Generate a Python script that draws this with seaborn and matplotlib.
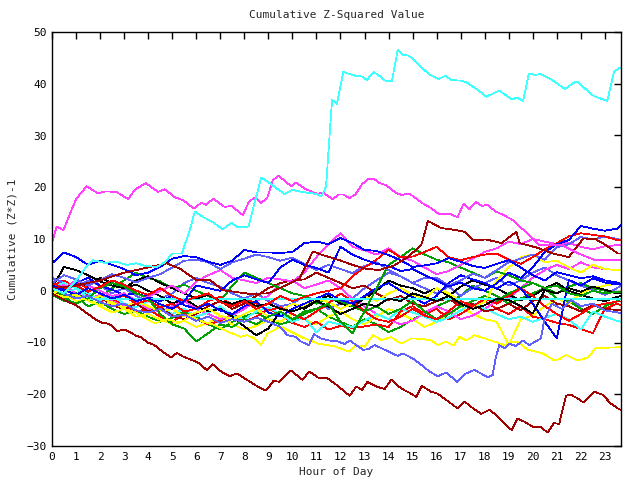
import numpy as np
import pandas as pd
import matplotlib
matplotlib.use("Agg")
import matplotlib.pyplot as plt
import seaborn as sns

# ---------------- colours ----------------
RED, GREEN, BLUE, MAG = "#ff0000", "#00a000", "#0000ff", "#ff40ff"
CYAN, DRED, YEL, BLACK, SLATE = "#40ffff", "#a00000", "#ffff00", "#000000", "#6060ff"

# half-hour grid for the tangled middle series (0 .. 23.5, then 23.67)
GRID = list(np.arange(0, 24, 0.5)) + [23.67]

blue_upper = [5.3, 7.4, 6.5, 5.0, 5.8, 5.0, 4.2, 3.0,
              3.5, 4.6, 6.2, 6.7, 6.5, 5.6, 5.0, 5.8,
              7.9, 7.4, 7.4, 7.3, 7.5, 9.2, 9.5, 9.0,
              10.2, 9.2, 7.9, 7.7, 6.9, 5.9, 4.6, 4.9,
              5.3, 6.3, 5.6, 4.8, 4.4, 5.2, 5.9, 4.5,
              3.0, 2.0, 3.6, 3.0, 2.4, 2.8, 2.0, 1.6, 1.3]
blue_right = [1.0, 0.2, -0.8, 0.5, -0.5, -1.5, -0.8, -2.0,
              -1.4, -2.6, -3.5, -2.0, 1.0, 0.5, 0.0, 2.0,
              3.0, 2.2, 1.5, 4.5, 6.0, 5.0, 4.4, 3.5,
              8.5, 7.0, 6.0, 5.2, 4.8, 3.8, 4.2, 3.0,
              2.0, 0.8, 1.6, 0.5, 0.0, 1.4, 3.5, 2.5,
              4.5, 7.5, 9.0, 9.8, 12.5, 12.0, 11.6, 12.0, 12.7]
blue_mid = [0.8, 0.0, 1.5, 2.5, 1.0, 0.2, -0.8, -0.5,
            -1.2, -2.0, -1.0, -2.8, -3.5, -2.5, -3.8, -4.5,
            -3.0, -2.0, -4.2, -5.0, -3.5, -2.5, -1.5, -0.5,
            -1.8, -2.5, -1.0, 0.5, 1.5, 0.0, -1.2, -2.5,
            -1.0, 1.5, 3.0, 2.2, 1.5, 0.4, 1.8, 0.5,
            -2.5, -6.0, -9.2, 2.1, 1.0, 2.4, 1.6, 1.2, 1.3]
slate_up = [1.5, 3.0, 2.2, 1.0, 2.0, 3.2, 2.5, 1.6,
            2.5, 3.2, 4.5, 5.8, 6.0, 5.5, 4.2, 5.5,
            6.2, 7.0, 6.5, 5.8, 6.4, 5.2, 4.0, 5.0,
            4.2, 3.4, 4.8, 5.5, 4.0, 2.8, 1.5, 2.5,
            2.5, 1.0, 2.0, 3.3, 2.5, 4.0, 5.5, 6.2,
            7.0, 6.0, 8.4, 9.0, 10.4, 9.9, 10.5, 10.0, 9.8]
slate_mid = [2.5, 1.5, 0.5, 2.0, 1.0, -0.5, 0.5, -1.0,
             -2.0, -1.5, -0.5, 1.5, 2.5, 1.5, 0.8, -0.5,
             -1.5, -0.5, -2.0, -3.0, -2.5, -1.0, -2.0, -3.5,
             -2.5, -1.5, 0.5, 2.0, 3.5, 2.8, 1.5, 0.5,
             -0.5, 0.8, -1.0, 0.5, 1.5, 2.5, 1.0, 2.0,
             3.5, 4.5, 3.0, 2.0, 1.0, 0.2, -0.8, 0.5, 1.0]
cyan_mid = [0.8, 1.5, 0.5, -0.5, -1.8, -1.0, -2.5, -3.2,
            -2.0, -3.0, -4.5, -3.5, -5.0, -4.2, -3.0, -4.8,
            -5.5, -4.0, -3.2, -4.5, -6.0, -5.2, -8.0, -6.0,
            -6.5, -7.0, -5.8, -4.5, -5.5, -3.5, -4.2, -5.0,
            -6.0, -5.2, -3.8, -2.5, -3.5, -4.5, -5.5, -5.0,
            -6.0, -5.2, -4.5, -5.5, -7.5, -4.0, -5.0, -5.8, -6.0]
mag_mid1 = [1.5, 0.5, 2.0, 1.0, 0.0, -1.0, -0.5, -2.0,
            -1.2, 0.0, 1.0, -0.5, 1.8, 3.0, 4.0, 2.5,
            2.0, 1.5, 2.5, 2.2, 1.8, 3.5, 6.5, 9.0,
            11.1, 8.5, 7.8, 7.0, 8.2, 6.5, 5.8, 4.5,
            3.2, 3.8, 5.0, 6.2, 7.5, 8.2, 9.5, 9.0,
            10.0, 9.5, 9.0, 9.2, 8.5, 8.0, 8.6, 8.8, 8.8]
mag_mid2 = [0.5, 1.2, -0.5, -1.5, -0.8, -2.0, -3.0, -2.2,
            -3.5, -4.0, -3.0, -2.0, -3.5, -4.5, -5.5, -4.8,
            -3.5, -2.0, -1.0, 1.5, 2.0, 0.5, 1.2, 2.0,
            0.5, -1.5, -3.0, -4.5, -5.5, -6.5, -5.8, -4.2,
            -3.0, -4.0, -5.5, -4.8, -3.5, -2.0, -1.5, 0.5,
            2.5, 4.0, 5.0, 4.2, 5.5, 4.5, 4.2, 4.0, 4.0]
dred_mid = [0.0, -1.0, -0.5, -1.8, -1.2, -2.8, -3.5, -2.5,
            -4.0, -3.2, -4.8, -5.5, -4.5, -3.0, -2.0, -3.5,
            -2.5, -1.0, 0.5, 1.5, 2.0, 2.2, 3.5, 2.5,
            1.5, 0.5, 1.0, -0.5, -1.8, -1.0, -2.5, -3.0,
            -2.0, -1.5, -3.0, -2.5, -4.0, -3.5, -2.5, -3.8,
            -2.0, -1.0, -2.5, -3.0, -4.0, -2.8, -3.5, -3.7, -3.7]
red_upper = [1.5, 0.5, 1.0, -0.2, 0.8, 2.0, 1.2, 0.0,
             -0.8, 0.5, -1.0, -2.0, -1.2, -0.5, -2.2, -3.0,
             -2.0, -3.5, -2.5, -1.0, -2.0, -1.2, -0.5, 0.0,
             0.5, 2.8, 4.5, 6.0, 7.9, 6.5, 6.6, 7.5,
             8.5, 6.5, 5.9, 6.5, 7.0, 7.2, 6.0, 5.2,
             6.5, 8.0, 9.2, 10.5, 11.1, 10.8, 10.5, 9.8, 9.8]
red_mid = [0.8, 0.2, 1.5, 0.5, -0.5, -1.5, -1.0, -2.5,
           -1.8, -3.2, -2.5, -4.0, -3.5, -2.0, -1.2, -2.8,
           -1.5, -2.5, -3.8, -3.2, -4.5, -5.5, -4.0, -2.5,
           -0.5, -2.0, -4.0, -5.5, -6.0, -5.0, -3.5, -4.8,
           -5.5, -4.0, -2.0, -3.0, -1.5, -2.5, -1.0, 0.5,
           -1.0, -3.0, -4.5, -5.8, -4.5, -3.0, -2.5, -2.1, -2.1]
red_low = [1.0, 2.0, 0.5, -1.0, -2.0, -1.5, -3.0, -4.0,
           -3.5, -5.0, -6.0, -4.5, -5.5, -6.5, -5.8, -4.5,
           -6.0, -5.0, -3.5, -4.5, -6.2, -7.0, -6.0, -7.5,
           -6.8, -7.2, -6.9, -6.5, -7.0, -4.0, -3.0, -4.5,
           -3.5, -5.5, -4.5, -3.0, -2.0, -3.5, -4.5, -3.0,
           -5.0, -5.5, -6.2, -6.6, -7.4, -8.2, -3.5, -2.5, -2.8]
yel_mid = [-0.5, 0.5, -1.0, -1.8, -1.0, -2.5, -3.2, -2.0,
           -3.0, -4.0, -3.5, -5.0, -4.2, -3.5, -4.8, -5.5,
           -4.5, -3.5, -5.0, -4.0, -2.5, -3.0, -1.5, -2.2,
           -3.5, -2.5, -1.0, -2.0, -0.5, 0.5, -0.8, -1.5,
           0.5, -0.5, -2.0, -3.0, -2.2, 2.0, 4.5, 6.5,
           7.0, 5.5, 5.8, 4.5, 3.5, 5.0, 4.2, 4.0, 4.0]
yel_mid2 = [0.2, -0.8, -2.0, -1.5, -3.0, -4.2, -3.5, -5.0,
            -4.5, -5.5, -6.5, -5.8, -7.0, -6.2, -5.0, -6.5,
            -7.5, -6.8, -5.5, -6.0, -4.5, -5.5, -6.5, -5.0,
            -4.0, -5.5, -6.5, -5.0, -3.5, -4.5, -5.5, -7.0,
            -6.0, -4.5, -3.0, -4.5, -5.5, -6.0, -10.5, -5.5,
            -4.8, -3.0, -1.5, -2.5, -0.5, 0.5, 1.0, 1.4, 1.4]
black1 = [0.5, 4.6, 4.0, 3.0, 1.8, 1.0, 0.5, 2.0,
          2.8, 1.5, 0.5, -0.5, -1.5, -0.8, -2.0, -2.5,
          -1.8, -3.0, -2.5, -3.5, -4.0, -3.2, -2.0, -3.0,
          -4.5, -3.5, -2.5, -3.0, -1.5, -2.0, -0.5, -1.2,
          -2.0, -1.0, -2.5, -3.5, -2.8, -1.5, -1.8, -3.0,
          -4.4, 0.1, -0.5, 0.5, -0.2, 0.8, 0.2, -0.5, -0.5]
black2 = [-0.5, 0.5, 1.5, 0.8, 2.5, 1.5, 0.5, 1.2,
          0.0, -1.0, -2.5, -1.5, -3.0, -4.0, -3.5, -5.0,
          -6.9, -8.6, -7.3, -4.0, -2.5, -3.5, -2.0, -1.0,
          -2.5, -3.0, -1.5, 0.0, 2.0, 1.0, 0.5, -0.5,
          0.5, -1.0, 0.8, 2.0, 1.2, 0.5, -0.8, -1.8,
          -1.0, 0.5, 1.5, 0.0, -0.8, -1.5, -2.0, -1.2, -1.0]
green1 = [-0.5, -1.5, -2.5, -1.5, 0.5, 1.5, 0.8, -0.5,
          -1.5, -4.5, -6.5, -7.3, -9.8, -8.2, -6.5, -7.0,
          -5.5, -6.5, -5.0, -4.0, -5.5, -4.0, -3.5, -2.5,
          -6.0, -8.2, -4.0, 0.5, 5.0, 6.5, 8.2, 7.0,
          6.0, 5.5, 4.5, 3.5, 2.5, 3.7, 3.0, 2.0,
          1.5, 0.5, 1.0, -0.5, -1.0, 0.0, -0.5, -0.2, -0.2]
green2 = [0.5, -1.0, -0.5, -2.0, -1.2, 0.5, 2.0, 3.5,
          2.5, 1.8, 0.5, 1.2, 0.0, -1.0, -2.0, 1.0,
          3.5, 2.5, 1.5, 0.5, -0.5, -1.0, -2.5, -1.5,
          -2.0, -3.0, -4.0, -3.0, -4.5, -3.5, -2.0, -4.0,
          -5.5, -4.5, -3.0, -2.0, -1.0, -2.0, -0.5, 0.5,
          1.5, 0.5, -0.5, 0.8, 1.5, 0.5, 0.0, -0.5, -0.3]
green3 = [-0.8, -2.0, -1.0, -3.0, -2.2, -3.5, -4.5, -3.8,
          -5.0, -6.0, -5.2, -4.0, -5.0, -6.5, -7.5, -6.0,
          -5.0, -4.2, -5.5, -6.5, -5.8, -4.5, -3.5, -5.0,
          -6.0, -7.0, -5.5, -6.5, -8.0, -7.0, -5.5, -4.5,
          -3.0, -2.0, -1.0, 1.0, 0.0, -1.0, -2.5, -1.5,
          -0.5, 0.5, -1.5, -2.0, -3.5, -4.5, -3.0, -2.0, -1.5]

# ---------------- individually traced series ----------------
cyan_flat_h = [0, 0.5, 1.0, 1.6, 23.67]
cyan_flat_v = [0.5, -0.6, 0.4, -1.6, -1.6]

cyan_top_h = [0, 0.5, 1.0, 1.4, 1.7, 2.2, 2.7, 3.1, 3.5, 3.9, 4.35, 4.7, 5.0, 5.4,
              5.73, 5.94, 6.27, 6.7, 7.1, 7.46, 7.72, 8.18, 8.43, 8.7, 9.05, 9.67,
              10.0, 10.4, 11.0, 11.2, 11.4, 11.65, 11.85, 12.12, 12.37, 12.64, 12.9,
              13.1, 13.38, 13.6, 13.86, 14.14, 14.38, 14.59, 14.86, 15.28, 15.69,
              16.08, 16.36, 16.63, 17.0, 17.24, 17.63, 18.07, 18.6, 19.12, 19.36,
              19.6, 19.84, 20.09, 20.33, 20.74, 21.09, 21.34, 21.75, 21.89, 22.47,
              22.61, 23.1, 23.38, 23.59, 23.67]
cyan_top_v = [0.5, -0.5, 2.0, 4.5, 5.9, 5.4, 5.6, 5.0, 5.3, 4.8, 4.6, 5.5, 7.2, 7.2,
              11.7, 15.3, 14.3, 13.2, 11.9, 13.1, 12.3, 12.4, 17.0, 21.9, 20.8, 18.7,
              19.5, 19.1, 18.7, 18.2, 20.1, 36.9, 36.1, 42.3, 41.9, 41.5, 41.4,
              40.7, 42.3, 41.6, 40.6, 40.5, 46.5, 45.6, 45.4, 43.6, 41.8,
              40.9, 41.5, 40.7, 40.6, 40.3, 39.1, 37.5, 38.7, 37.0, 37.3,
              36.7, 42.0, 41.7, 41.9, 40.9, 39.8, 39.0, 40.3, 40.3, 37.8,
              37.5, 36.7, 42.3, 43.0, 43.0]

mag_top_h = [0, 0.19, 0.47, 1.0, 1.44, 1.92, 2.2, 2.68, 3.17, 3.44, 3.9, 4.41, 4.69,
             5.1, 5.45, 5.9, 6.21, 6.42, 6.7, 7.18, 7.46, 7.94, 8.19, 8.43, 8.7, 8.95,
             9.19, 9.43, 9.95, 10.15, 10.57, 11.05, 11.26, 11.68, 11.93, 12.12, 12.37,
             12.62, 12.9, 13.17, 13.38, 13.62, 13.9, 14.31, 14.56, 14.86, 15.42, 15.69,
             16.1, 16.59, 16.87, 17.12, 17.35, 17.63, 17.88, 18.11, 18.46, 18.8, 19.15,
             19.63, 20.25, 21.23, 21.9, 22.6, 23.67]
mag_top_v = [9.2, 12.4, 11.7, 17.7, 20.2, 18.8, 19.2, 19.1, 17.7, 19.5, 20.8, 19.1, 19.6,
             18.1, 17.5, 15.9, 17.0, 16.6, 17.8, 16.2, 16.4, 14.6, 17.2, 18.0, 17.0, 17.9,
             21.4, 22.2, 20.2, 20.9, 19.6, 18.7, 19.0, 17.7, 18.6, 18.6, 17.9,
             18.6, 20.6, 21.6, 21.7, 20.8, 20.4, 18.9, 18.5, 18.8, 16.9, 16.2,
             14.8, 14.8, 14.2, 16.8, 15.7, 17.2, 16.4, 16.6, 15.3, 14.6, 13.7,
             11.7, 8.8, 8.8, 7.2, 5.9, 5.9]

dred_bot_h = [0, 0.5, 1.0, 1.5, 1.84, 2.1, 2.38, 2.72, 3.0, 3.29, 3.5, 3.71, 3.98, 4.26,
              4.61, 4.95, 5.2, 5.44, 5.78, 6.13, 6.45, 6.68, 7.03, 7.38, 7.7, 8.07, 8.55,
              8.9, 9.22, 9.45, 9.93, 10.42, 10.7, 11.11, 11.46, 11.84, 12.38, 12.66,
              12.9, 13.12, 13.49, 13.84, 14.11, 14.53, 14.87, 15.15, 15.39, 15.77,
              16.05, 16.4, 16.86, 17.16, 17.51, 17.85, 18.2, 18.54, 18.82, 19.12,
              19.37, 19.65, 20.0, 20.34, 20.62, 20.87, 21.1, 21.38, 21.59, 21.86,
              22.11, 22.55, 22.9, 23.25, 23.59, 23.67]
dred_bot_v = [-0.5, -1.8, -2.8, -4.5, -5.65, -6.2, -6.4, -7.8, -7.5, -8.1, -8.7, -9.0, -10.0, -10.5,
              -11.8, -12.9, -12.0, -12.7, -13.3, -14.0, -15.4, -14.2, -15.6, -16.5, -16.0, -17.1, -18.5,
              -19.3, -17.4, -17.6, -15.4, -17.2, -15.6, -16.9, -16.9, -18.2, -20.3, -18.5,
              -19.2, -17.6, -18.5, -19.0, -17.2, -18.9, -19.7, -20.5, -18.4, -19.5,
              -19.9, -21.1, -22.7, -21.4, -22.7, -23.8, -23.0, -24.3, -25.7, -26.9,
              -24.7, -25.3, -26.3, -26.4, -27.4, -25.6, -25.7, -20.3, -20.1, -20.8,
              -21.6, -19.5, -20.1, -21.8, -22.9, -23.0]

dred_high_h = [0, 1, 2, 3, 4, 4.76, 5.31, 6.0, 6.56, 7.11, 8.22, 9.0, 9.7, 10.3, 10.85,
               11.26, 11.96, 12.5, 13.0, 13.6, 14.2, 14.8, 15.36, 15.64, 16.19, 16.7,
               17.16, 17.52, 18.07, 18.7, 19.32, 19.45, 20.2, 20.84, 21.5, 22.1, 22.6,
               23.05, 23.54, 23.67]
dred_high_v = [0.5, 1.0, 2.0, 3.5, 4.5, 5.3, 4.3, 2.1, 2.1, 0.1, -0.6, -0.5, 1.0, 2.4, 7.6,
               6.9, 5.9, 5.0, 4.3, 4.0, 4.8, 6.5, 8.8, 13.5, 12.1, 11.8,
               11.4, 9.8, 9.9, 9.2, 11.4, 9.2, 8.3, 7.2, 6.5, 10.1, 10.0,
               8.8, 7.2, 7.2]

slate_low_h = [0, 0.5, 1.0, 1.5, 2.0, 2.5, 3.0, 3.5, 4.0, 4.5, 5.0, 5.5, 6.0, 6.5, 7.0, 7.5,
               8.0, 8.5, 9.0, 9.46, 9.8, 10.15, 10.35, 10.69, 10.9, 11.17, 11.52, 11.9,
               12.18, 12.38, 12.66, 12.94, 13.15, 13.42, 13.84, 14.39, 14.6, 15.01, 15.36,
               15.7, 16.05, 16.4, 16.86, 17.16, 17.57, 18.12, 18.33, 18.47, 18.61, 18.82,
               19.02, 19.3, 19.58, 19.85, 20.34, 20.48, 20.8, 21.2, 21.6, 22.0, 22.5,
               23.0, 23.67]
slate_low_v = [0.5, -0.5, -1.5, -1.0, -2.2, -3.0, -2.5, -3.8, -4.2, -3.5, -5.0, -4.6, -5.8, -5.0, -6.2, -5.5,
               -6.0, -5.2, -6.0, -6.9, -8.6, -8.9, -9.8, -10.5, -8.4, -9.2, -9.6, -9.8,
               -10.3, -9.6, -10.5, -11.4, -11.3, -10.5, -11.4, -12.6, -12.1, -13.1, -14.3,
               -15.6, -16.5, -15.8, -17.6, -16.1, -15.3, -16.7, -16.3, -12.7, -10.5, -11.1,
               -10.2, -10.7, -9.6, -10.5, -9.2, -5.6, -2.5, -3.5, -1.8, -3.0, -2.5,
               -3.8, -4.3]

yel_low_h = [0, 0.5, 1.0, 1.5, 2.0, 2.5, 3.0, 3.5, 4.26, 4.8, 5.3, 5.8, 6.3, 6.75, 7.3,
             7.86, 8.13, 8.41, 8.69, 8.97, 9.52, 10.35, 11.04, 11.8, 12.38, 12.66, 13.0,
             13.35, 13.7, 14.1, 14.53, 14.94, 15.35, 15.77, 16.05, 16.4, 16.7, 16.95,
             17.25, 17.57, 18.2, 18.82, 19.1, 19.37, 19.78, 20.34, 20.6, 20.89, 21.1,
             21.38, 21.86, 22.28, 22.62, 23.67]
yel_low_v = [-0.5, -1.2, -0.8, -2.0, -2.8, -2.2, -3.5, -4.2, -6.3, -5.5, -6.2, -5.0, -6.0, -6.6, -7.9,
             -8.9, -8.6, -9.2, -10.5, -8.2, -6.9, -8.9, -10.2, -10.8, -11.8, -10.5, -10.8,
             -8.6, -9.5, -9.0, -10.2, -9.2, -9.3, -9.6, -10.5, -9.8, -10.6, -8.9,
             -9.6, -8.6, -9.5, -10.5, -10.0, -9.8, -11.4, -12.0, -12.6, -13.5, -13.2,
             -12.4, -13.5, -12.9, -11.1, -10.9]

# ---------------- assemble long-form table ----------------
series = [
    ("green3", GRID, green3, GREEN), ("yel_mid2", GRID, yel_mid2, YEL),
    ("red_low", GRID, red_low, RED), ("slate_mid", GRID, slate_mid, SLATE),
    ("mag_mid2", GRID, mag_mid2, MAG), ("cyan_mid", GRID, cyan_mid, CYAN),
    ("dred_mid", GRID, dred_mid, DRED), ("black2", GRID, black2, BLACK),
    ("green2", GRID, green2, GREEN), ("yel_mid", GRID, yel_mid, YEL),
    ("red_mid", GRID, red_mid, RED), ("blue_mid", GRID, blue_mid, BLUE),
    ("cyan_flat", cyan_flat_h, cyan_flat_v, CYAN), ("black1", GRID, black1, BLACK),
    ("green1", GRID, green1, GREEN), ("mag_mid1", GRID, mag_mid1, MAG),
    ("slate_up", GRID, slate_up, SLATE), ("red_upper", GRID, red_upper, RED),
    ("blue_right", GRID, blue_right, BLUE), ("blue_upper", GRID, blue_upper, BLUE),
    ("dred_high", dred_high_h, dred_high_v, DRED),
    ("yel_low", yel_low_h, yel_low_v, YEL), ("slate_low", slate_low_h, slate_low_v, SLATE),
    ("dred_bot", dred_bot_h, dred_bot_v, DRED),
    ("mag_top", mag_top_h, mag_top_v, MAG), ("cyan_top", cyan_top_h, cyan_top_v, CYAN),
]

frames = []
palette = {}
order = []
for name, hs, vs, col in series:
    frames.append(pd.DataFrame({"hour": list(hs), "value": list(vs), "series": name}))
    palette[name] = col
    order.append(name)
df = pd.concat(frames, ignore_index=True)

sns.set_style("white")
plt.rcParams["font.family"] = ["DejaVu Sans Mono"]

fig = plt.figure(figsize=(6.4, 4.8), dpi=100)
ax = fig.add_axes([52 / 640, 34 / 480, 569 / 640, 414 / 480])

sns.lineplot(data=df, x="hour", y="value", hue="series", hue_order=order,
             palette=palette, estimator=None, sort=False, legend=False,
             linewidth=0.55, ax=ax)
for ln in ax.get_lines():
    ln.set_antialiased(False)

ax.set_xlim(0, 23.67)
ax.set_ylim(-30, 50)
ax.set_xticks(range(0, 24))
ax.set_yticks(range(-30, 51, 10))
ax.tick_params(direction="in", length=5, width=1, top=True, right=True,
               labelsize=8, colors="black", pad=4)
for s in ax.spines.values():
    s.set_visible(True)
    s.set_color("black")
    s.set_linewidth(1)

ax.set_title("Cumulative Z-Squared Value", fontsize=8, pad=10)
ax.set_xlabel("Hour of Day", fontsize=8, labelpad=4)
ax.set_ylabel("Cumulative (Z*Z)-1", fontsize=8, labelpad=6)

fig.savefig("out.png", dpi=100, facecolor="white")
